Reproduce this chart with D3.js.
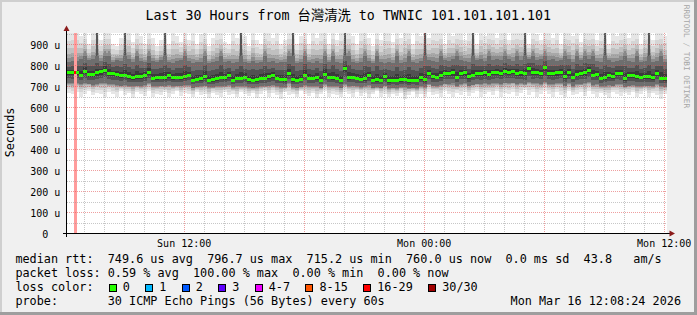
<!DOCTYPE html>
<html><head><meta charset="utf-8">
<script src="https://cdn.jsdelivr.net/npm/d3@7"></script>
<style>
html,body{margin:0;padding:0;background:#f0f0f0;}
svg{display:block;}
text{font-family:"DejaVu Sans Mono",monospace;fill:#000;white-space:pre;}
</style>
</head><body>
<svg id="chart" width="697" height="315"></svg>
<script>
// ---------------- data ----------------
const titleStart = "Last 30 Hours from ";
const titleCJK = "台灣清洗";
const titleEnd = " to TWNIC 101.101.101.101";
const startTime = "2026-03-15T06:08:24Z";
const endTime = "2026-03-16T12:08:24Z";
const sampleMinutes = 12;
const yMax = 952.4; // microseconds

// median rtt per sample (us)
const median = [
763,763,763,752,770,755,755,762,768,776,
760,758,755,750,752,745,740,744,744,750,
766,738,740,742,740,750,740,742,740,746,
752,727,732,734,745,728,730,735,742,740,
748,728,736,738,742,730,728,730,736,736,
744,748,736,732,730,760,730,728,732,752,
738,736,740,728,757,742,740,736,728,784,
740,742,738,732,734,750,728,730,728,744,
725,727,726,729,731,725,727,726,740,730,
760,744,742,748,760,758,762,742,760,762,
744,752,760,758,762,756,763,766,760,768,
766,770,760,762,758,784,763,765,760,786,
760,758,762,766,745,762,742,756,760,762,
776,752,754,736,740,748,746,760,758,736,
748,750,744,742,745,744,740,760,738,736];

// upper edge of dense pings (us)
const pingHi = [
815,820,820,830,865,825,830,960,820,865,
865,815,825,820,960,830,815,865,820,815,
865,820,815,825,960,815,810,820,825,865,
820,810,815,815,865,810,815,820,865,815,
820,810,815,960,815,810,820,810,815,865,
815,820,810,815,815,865,960,810,815,865,
815,810,820,810,865,815,865,815,810,960,
865,815,810,815,865,820,810,865,815,810,
815,810,865,810,815,865,815,810,820,960,
825,820,815,865,825,820,830,865,825,820,
815,960,825,830,820,865,825,830,825,865,
830,820,865,825,960,830,865,825,830,865,
825,830,820,825,865,830,815,865,825,865,
830,865,820,815,960,825,815,820,825,865,
820,815,865,815,820,960,815,820,865,815];

// highest ping (us)
const pingMax = [
960,960,960,940,960,900,960,960,920,960,
960,900,890,930,960,960,910,960,940,900,
960,930,890,920,960,900,960,940,910,960,
920,960,900,950,960,890,930,960,960,910,
900,960,930,960,940,890,960,920,900,960,
960,930,960,900,920,960,960,900,940,960,
900,960,930,960,960,900,960,920,960,960,
960,940,900,960,960,930,890,960,920,960,
960,910,960,930,960,960,900,960,940,960,
930,960,960,960,900,960,940,960,960,920,
960,960,900,960,940,960,960,930,960,960,
920,960,960,960,960,900,960,950,920,960,
960,930,960,900,960,960,940,960,910,960,
960,960,920,960,960,900,960,940,960,960,
930,960,960,900,960,960,920,960,960,940];

// lower edge of dense pings (us)
const pingLo = [
715,712,715,708,712,710,706,710,714,716,
710,708,705,702,706,700,698,702,700,704,
712,700,698,702,700,706,698,700,702,704,
706,692,696,698,702,694,694,698,700,700,
704,694,698,698,700,694,692,694,698,698,
702,704,698,696,694,712,694,692,696,706,
698,698,700,692,708,700,700,698,692,710,
700,702,698,696,698,704,692,694,692,702,
690,692,690,694,694,690,692,690,700,694,
710,702,700,704,710,710,712,700,710,712,
702,706,710,708,712,708,712,714,710,716,
714,716,710,712,708,720,712,714,710,720,
710,708,712,714,702,712,700,708,710,712,
718,706,708,698,700,704,702,710,708,696,
702,704,700,700,702,702,698,710,698,696];

// lowest ping (us)
const pingMin = [
668,660,672,650,664,676,655,668,660,648,
670,662,650,676,658,666,645,672,660,654,
675,650,664,658,670,646,662,674,652,666,
660,648,672,656,664,642,668,658,650,670,
655,664,646,672,660,652,668,644,662,674,
650,666,658,640,670,656,662,648,674,660,
652,668,644,662,676,650,664,658,646,670,
660,648,672,654,666,642,660,674,650,664,
646,662,652,668,640,658,670,650,662,648,
672,656,664,650,676,660,646,668,658,672,
654,666,676,650,662,670,656,674,648,668,
660,672,652,666,680,658,670,646,664,676,
662,650,670,658,648,674,656,664,672,652,
676,660,650,668,656,644,670,662,652,666,
658,670,646,662,674,650,666,656,640,664];

const yTicks = [0,100,200,300,400,500,600,700,800,900];
const yTickLabels = ["0  ","100 u","200 u","300 u","400 u","500 u","600 u","700 u","800 u","900 u"];

const outageStart = ["2026-03-15T06:29:00Z"];
const outageEnd   = ["2026-03-15T06:38:00Z"];
const lossEventStart = ["2026-03-15T06:29:00Z"];
const lossEventEnd   = ["2026-03-15T06:35:00Z"];
const lossEventValue = [763];
const lossEventBucket = [6];

const lossLabels = ["0","1","2","3","4-7","8-15","16-29","30/30"];
const lossColors = ["#26ff00","#00b8ff","#0059ff","#5e00ff","#ee00ff","#ff5500","#ff0000","#a10000"];

const rttStats = ["749.6","796.7","715.2","760.0"];
const rttSd = "0.0";
const rttAms = "43.8";
const lossStats = ["0.59","100.00","0.00","0.00"];
const probeText = "30 ICMP Echo Pings (56 Bytes) every 60s";
const dateText = "Mon Mar 16 12:08:24 2026";
const yAxisTitle = "Seconds";
const watermark = "RRDTOOL / TOBI OETIKER";

// ---------------- drawing ----------------
const W = 697, H = 315;
const svg = d3.select("#chart");
const t0 = new Date(startTime), t1 = new Date(endTime);
const PL = 67, PR = 667, PT = 33, PB = 233;
const x = d3.scaleUtc().domain([t0, t1]).range([PL, PR]);
const y = d3.scaleLinear().domain([0, yMax]).range([PB, PT]);
const times = median.map((_, i) => new Date(t0.getTime() + i * sampleMinutes * 60000));
const tNext = i => new Date(t0.getTime() + (i + 1) * sampleMinutes * 60000);
const colX = i => x(times[i]);
const colW = i => x(tNext(i)) - x(times[i]);

// background + frame
svg.append("rect").attr("width", W).attr("height", H).attr("fill", "#f0f0f0");
svg.append("path").attr("d", `M0,0H${W}V2H2V${H}H0Z`).attr("fill", "#cfcfcf");
svg.append("path").attr("d", `M${W},0V${H}H0V${H-3}H${W-3}V0Z`).attr("fill", "#9e9e9e");

// plot canvas
svg.append("rect").attr("x", PL).attr("y", PT).attr("width", PR - PL).attr("height", PB - PT).attr("fill", "#fff");

const clip = svg.append("clipPath").attr("id", "pc");
clip.append("rect").attr("x", PL).attr("y", PT).attr("width", PR - PL).attr("height", PB - PT);
const g = svg.append("g").attr("clip-path", "url(#pc)").attr("shape-rendering", "crispEdges");

// smoke layers (outer -> inner); dense band capped, spikes drawn as thin streaks
const cap = 845;
const hiC = i => Math.min(pingHi[i], cap);
const lerp = (a, b, f) => a + (b - a) * f;
const upFr = [0, 0.3, 0.55, 0.74, 0.88, 1];
const loFr = [0, 0.35, 0.6, 0.8, 0.92, 1];
const layerColors = ["#e6e6e6", "#d5d5d5", "#c0c0c0", "#a8a8a8", "#8c8c8c", "#6e6e6e"];
layerColors.forEach((c, k) => {
  g.append("g").selectAll("rect").data(median).join("rect")
    .attr("x", (d, i) => colX(i))
    .attr("width", (d, i) => colW(i))
    .attr("y", (d, i) => y(lerp(pingMax[i], hiC(i), upFr[k])))
    .attr("height", (d, i) => y(lerp(pingMin[i], pingLo[i], loFr[k])) - y(lerp(pingMax[i], hiC(i), upFr[k])))
    .attr("fill", c);
});
// spike streaks
const spikes = median.map((d, i) => i).filter(i => pingHi[i] > cap);
g.append("g").selectAll("rect").data(spikes).join("rect")
  .attr("x", i => colX(i) + 1).attr("width", 2)
  .attr("y", i => y(pingHi[i])).attr("height", i => y(cap) - y(pingHi[i]))
  .attr("fill", i => pingHi[i] > 900 ? "#555555" : "#888888");

const coreFr = [0.45, 0.75];
const coreColors = ["#525252", "#3a3a3a"];
coreColors.forEach((c, k) => {
  g.append("g").selectAll("rect").data(median).join("rect")
    .attr("x", (d, i) => colX(i))
    .attr("width", (d, i) => colW(i))
    .attr("y", (d, i) => y(lerp(hiC(i), d, coreFr[k])))
    .attr("height", (d, i) => y(lerp(pingLo[i], d, coreFr[k])) - y(lerp(hiC(i), d, coreFr[k])))
    .attr("fill", c);
});

// outage bar
outageStart.forEach((s, j) => {
  g.append("rect").attr("x", x(new Date(s))).attr("width", x(new Date(outageEnd[j])) - x(new Date(s)))
    .attr("y", PT).attr("height", PB - PT).attr("fill", "#ff9c9c");
});

// median
g.append("g").selectAll("rect").data(median).join("rect")
  .attr("x", (d, i) => colX(i))
  .attr("width", (d, i) => colW(i))
  .attr("y", d => y(d) - 1.5).attr("height", 3)
  .attr("fill", lossColors[0]);
lossEventStart.forEach((s, j) => {
  g.append("rect").attr("x", x(new Date(s))).attr("width", x(new Date(lossEventEnd[j])) - x(new Date(s)))
    .attr("y", y(lossEventValue[j]) - 1.5).attr("height", 3).attr("fill", lossColors[lossEventBucket[j]]);
});

// grid
const grid = svg.append("g").attr("shape-rendering", "crispEdges");
const minorY = d3.range(50, yMax, 50).filter(v => v % 100 !== 0);
grid.selectAll(".hmin").data(minorY).join("line")
  .attr("x1", PL).attr("x2", PR).attr("y1", d => Math.round(y(d)) + 0.5).attr("y2", d => Math.round(y(d)) + 0.5)
  .attr("stroke", "#8f8f8f").attr("stroke-opacity", 0.5).attr("stroke-dasharray", "1,1");
const hours = x.ticks(d3.utcHour.every(1)).filter(t => t.getUTCHours() % 6 !== 0);
grid.selectAll(".vmin").data(hours).join("line")
  .attr("y1", PT).attr("y2", PB).attr("x1", d => Math.round(x(d)) + 0.5).attr("x2", d => Math.round(x(d)) + 0.5)
  .attr("stroke", "#8f8f8f").attr("stroke-opacity", 0.5).attr("stroke-dasharray", "1,1");
grid.selectAll(".hmaj").data(yTicks.slice(1)).join("line")
  .attr("x1", PL).attr("x2", PR).attr("y1", d => Math.round(y(d)) + 0.5).attr("y2", d => Math.round(y(d)) + 0.5)
  .attr("stroke", "#e05050").attr("stroke-opacity", 0.55).attr("stroke-dasharray", "1,1");
const majX = x.ticks(d3.utcHour.every(6));
grid.selectAll(".vmaj").data(majX).join("line")
  .attr("y1", PT).attr("y2", PB + 2).attr("x1", d => Math.round(x(d)) + 0.5).attr("x2", d => Math.round(x(d)) + 0.5)
  .attr("stroke", "#e05050").attr("stroke-opacity", 0.55).attr("stroke-dasharray", "1,1");

// axes
const ax = svg.append("g").attr("shape-rendering", "crispEdges");
ax.append("line").attr("x1", 63).attr("x2", 670).attr("y1", PB + 0.5).attr("y2", PB + 0.5).attr("stroke", "#000");
ax.append("line").attr("x1", PL - 0.5).attr("x2", PL - 0.5).attr("y1", PB + 4).attr("y2", 30).attr("stroke", "#000");
svg.append("path").attr("d", `M${PL - 0.5},25.5L${PL + 2.5},31L${PL - 3.5},31Z`).attr("fill", "#8b1c1c");
svg.append("path").attr("d", `M675,${PB + 0.5}L669.5,${PB - 2.5}L669.5,${PB + 3.5}Z`).attr("fill", "#8b1c1c");

// y labels
svg.append("g").selectAll("text").data(yTicks).join("text")
  .attr("x", 60.3).attr("y", d => y(d) + 4.5)
  .attr("text-anchor", "end").attr("font-size", "10px")
  .text((d, i) => yTickLabels[i]);

// x labels
const labX = x.ticks(d3.utcHour.every(12));
const fmt = d3.utcFormat("%a %H:%M");
svg.append("g").selectAll("text").data(labX).join("text")
  .attr("x", d => x(d)).attr("y", 246.5)
  .attr("text-anchor", "middle").attr("font-size", "10px")
  .text(d => fmt(d));

// title
const tt = svg.append("text").attr("x", 145.5).attr("y", 19.5).attr("font-size", "13.3px");
tt.append("tspan").text(titleStart);
tt.append("tspan").attr("font-family", "'Noto Sans CJK TC','Noto Sans CJK SC',sans-serif").attr("font-size", "13.3px").text(titleCJK);
tt.append("tspan").text(titleEnd);

// y axis title
svg.append("text").attr("transform", "translate(14.2,132.5) rotate(-90)")
  .attr("text-anchor", "middle").attr("font-size", "11.8px").text(yAxisTitle);

// watermark
svg.append("text").attr("transform", "translate(684.3,56.5) rotate(90)")
  .attr("text-anchor", "middle").attr("font-size", "7.8px").style("fill", "#a6a6a6").text(watermark);

// legend
const LX = 15.4, LF = "11.8px";
const line1 = `median rtt:  ${rttStats[0]} us avg  ${rttStats[1]} us max  ${rttStats[2]} us min  ${rttStats[3]} us now  ${rttSd} ms sd  ${rttAms}   am/s`;
const line2 = `packet loss: ${lossStats[0]} % avg  ${lossStats[1]} % max  ${lossStats[2]} % min  ${lossStats[3]} % now`;
svg.append("text").attr("x", LX).attr("y", 263.4).attr("font-size", LF).text(line1);
svg.append("text").attr("x", LX).attr("y", 277.4).attr("font-size", LF).text(line2);
svg.append("text").attr("x", LX).attr("y", 291.4).attr("font-size", LF).text("loss color:");
svg.append("text").attr("x", LX).attr("y", 305.4).attr("font-size", LF).text("probe:       " + probeText);
svg.append("text").attr("x", 681).attr("y", 305.4).attr("font-size", LF).attr("text-anchor", "end").text(dateText);

let bx = 108.5;
lossLabels.forEach((lab, i) => {
  svg.append("rect").attr("x", bx + 0.5).attr("y", 284.5).attr("width", 7).attr("height", 7)
    .attr("fill", lossColors[i]).attr("stroke", "#000").attr("stroke-width", 1).attr("shape-rendering", "crispEdges");
  const t = svg.append("text").attr("x", bx + 14.2).attr("y", 291.4).attr("font-size", LF).text(lab);
  const w = t.node().getComputedTextLength();
  bx = bx + 14.2 + w + 15.2;
});
</script>
</body></html>
